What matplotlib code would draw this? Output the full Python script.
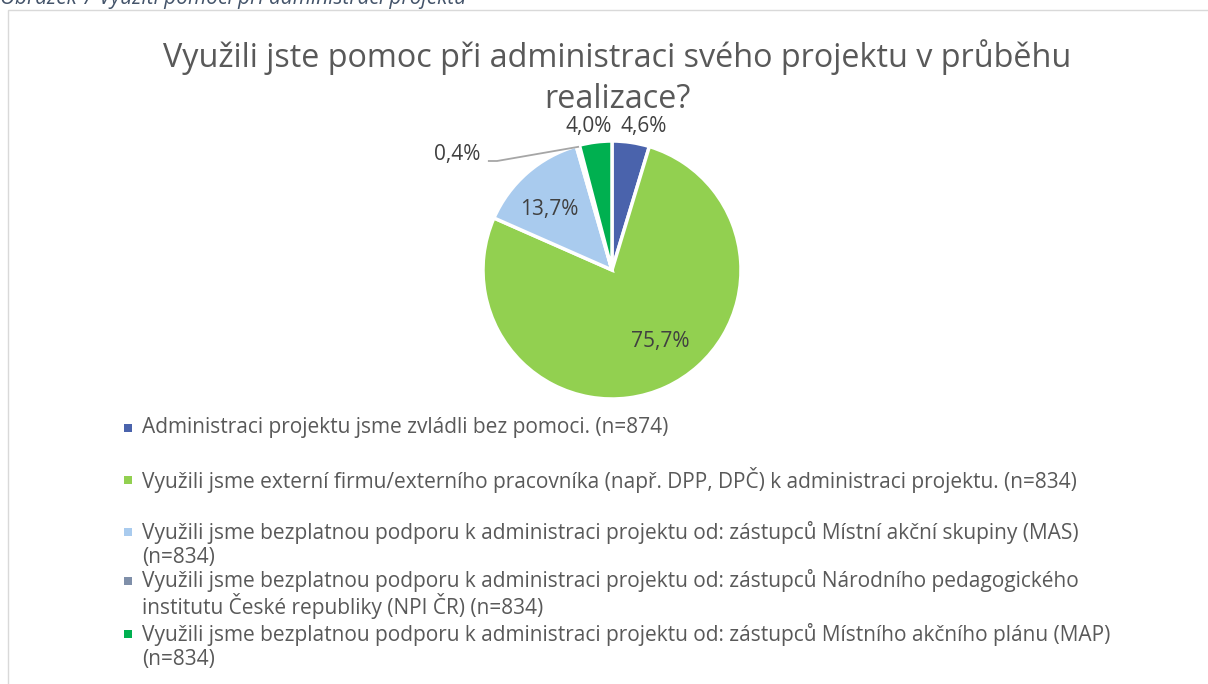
import numpy as np
import matplotlib
matplotlib.use("Agg")
import matplotlib.pyplot as plt
from matplotlib.patches import Rectangle

plt.rcParams['font.family'] = ['Open Sans', 'DejaVu Sans']

categories = [
    "Administraci projektu jsme zvládli bez pomoci. (n=874)",
    "Využili jsme externí firmu/externího pracovníka (např. DPP, DPČ) k administraci projektu. (n=834)",
    "Využili jsme bezplatnou podporu k administraci projektu od: zástupců Místní akční skupiny (MAS)\n(n=834)",
    "Využili jsme bezplatnou podporu k administraci projektu od: zástupců Národního pedagogického\ninstitutu České republiky (NPI ČR) (n=834)",
    "Využili jsme bezplatnou podporu k administraci projektu od: zástupců Místního akčního plánu (MAP)\n(n=834)",
]
values = [4.6, 75.7, 13.7, 0.4, 4.0]
labels = ["4,6%", "75,7%", "13,7%", "0,4%", "4,0%"]
colors = ["#4A63AC", "#92D050", "#A9CBEE", "#7F8FA9", "#00B050"]

W, H = 1208, 684
fig = plt.figure(figsize=(W / 100, H / 100), dpi=100)

# chart border
fig.patches.append(Rectangle((8 / W, -0.01), 1.0, (H - 10) / H + 0.01,
                             transform=fig.transFigure, fill=False,
                             edgecolor="#D9D9D9", linewidth=1.0))

# caption partially cut off at the top
fig.text(0 / W, 1 - 4 / H, "Obrázek 7 Využití pomoci při administraci projektu",
         fontsize=15, style="italic", color="#44546A", va="baseline", ha="left")

# title
fig.text(617 / W, 1 - 57 / H, "Využili jste pomoc při administraci svého projektu v průběhu",
         fontsize=23.3, color="#595959", ha="center", va="center")
fig.text(617 / W, 1 - 100 / H, "realizace?",
         fontsize=23.3, color="#595959", ha="center", va="center")

# pie axes
cx, cy, r = 612, 270, 129
side = 3 * r
ax = fig.add_axes([(cx - side / 2) / W, (H - cy - side / 2) / H, side / W, side / H])

wedges, _ = ax.pie(values, colors=colors, startangle=90, counterclock=False,
                   radius=1.0, wedgeprops=dict(edgecolor="white", linewidth=2.5))
ax.set_xlim(-1.5, 1.5)
ax.set_ylim(-1.5, 1.5)
ax.set_aspect("equal")
ax.axis("off")

label_r = [1.143, 0.67, 0.674, 1.5, 1.13]
label_da = [-4, 9, 5, 38, 1.8]
for w, lab, lr, da in zip(wedges, labels, label_r, label_da):
    mid = np.deg2rad((w.theta1 + w.theta2) / 2 + da)
    x, y = lr * np.cos(mid), lr * np.sin(mid)
    ax.text(x, y, lab, ha="center", va="center", fontsize=15, color="#404040")

# leader line for 0.4%
w = wedges[3]
mid = np.deg2rad((w.theta1 + w.theta2) / 2)
ex, ey = np.cos(mid), np.sin(mid)
ax.plot([-0.955, -0.891, ex * 0.99], [0.845, 0.845, ey * 0.99], color="#A6A6A6", lw=1.3)

# legend
rows = [428, 480, 532, 581, 634]
for cat, col, yy in zip(categories, colors, rows):
    fig.patches.append(Rectangle((124 / W, 1 - (yy + 4) / H), 8 / W, 8 / H,
                                 transform=fig.transFigure, facecolor=col, edgecolor="none"))
    for i, line in enumerate(cat.split("\n")):
        fig.text(142 / W, 1 - (yy + i * 25) / H, line, fontsize=15, color="#595959",
                 ha="left", va="center")

fig.savefig("out.png", dpi=100)
